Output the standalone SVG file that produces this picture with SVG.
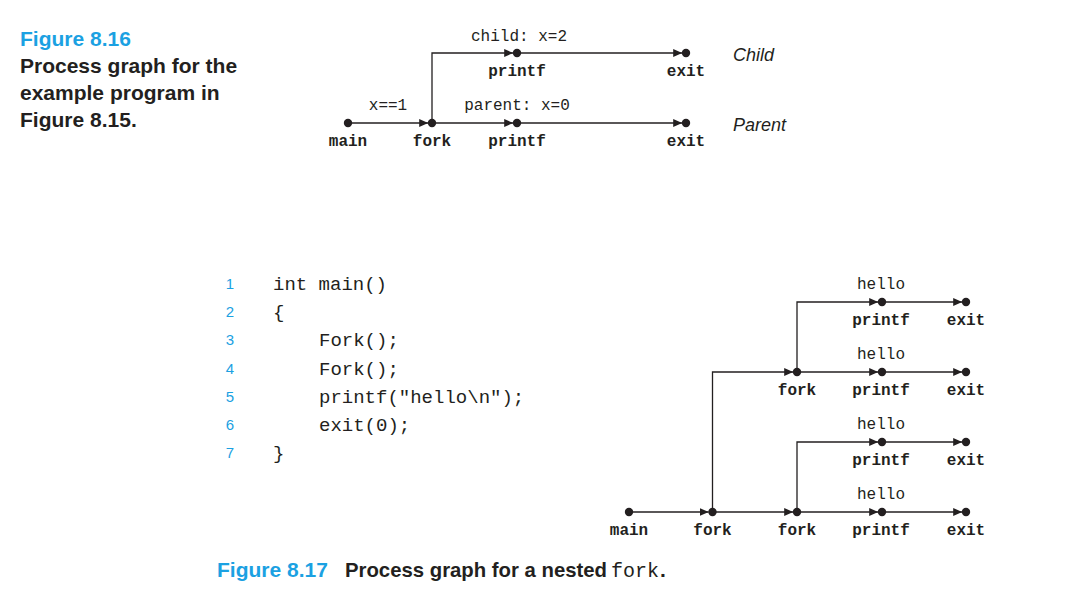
<svg xmlns="http://www.w3.org/2000/svg" width="1075" height="616" viewBox="0 0 1075 616">
<defs>
<marker id="arr" markerUnits="userSpaceOnUse" markerWidth="10" markerHeight="9" refX="9" refY="4" orient="auto">
<path d="M0,0 L9,4 L0,8 Z" fill="#231f20"/>
</marker>
<style>
.cap{font-family:"Liberation Sans",Arial,sans-serif;font-weight:700;font-size:21px;fill:#231f20}
.blue{fill:#1ba1e2}
.mono{font-family:"Liberation Mono","Courier New",monospace;font-size:16px;fill:#231f20;text-anchor:middle}
.bold{font-weight:700}
.code{font-family:"Liberation Mono","Courier New",monospace;font-size:19px;fill:#231f20}
.ln{font-family:"Liberation Sans",Arial,sans-serif;font-size:15px;fill:#1ba1e2;text-anchor:middle}
.it{font-family:"Liberation Sans",Arial,sans-serif;font-style:italic;font-size:18px;fill:#231f20}
.c{stroke:#231f20;stroke-width:1.3;fill:none;marker-end:url(#arr)}
.dot{fill:#231f20}
</style>
</defs>
<rect width="1075" height="616" fill="#fff"/>

<!-- Figure 8.16 caption -->
<g id="caption-816">
<text class="cap blue" x="20" y="46">Figure 8.16</text>
<text class="cap" x="20" y="73">Process graph for the</text>
<text class="cap" x="20" y="100">example program in</text>
<text class="cap" x="20" y="127">Figure 8.15.</text>
</g>

<!-- Top graph connectors -->
<g id="connectors-top">
<line class="c" x1="348" y1="123" x2="428.2" y2="123"/>
<line class="c" x1="432" y1="123" x2="513.2" y2="123"/>
<line class="c" x1="517" y1="123" x2="682.2" y2="123"/>
<path class="c" d="M432,123 V53 H513.2"/>
<line class="c" x1="517" y1="53" x2="682.2" y2="53"/>
<text class="mono" x="388" y="110">x==1</text>
<text class="mono" x="517" y="110">parent: x=0</text>
<text class="mono" x="519" y="41">child: x=2</text>
</g>

<g id="t-main"><circle class="dot" cx="348" cy="123" r="4.2"/><text class="mono bold" x="348" y="146">main</text></g>
<g id="t-fork"><circle class="dot" cx="432" cy="123" r="4.2"/><text class="mono bold" x="432" y="146">fork</text></g>
<g id="t-printf-parent"><circle class="dot" cx="517" cy="123" r="4.2"/><text class="mono bold" x="517" y="146">printf</text></g>
<g id="t-exit-parent"><circle class="dot" cx="686" cy="123" r="4.2"/><text class="mono bold" x="686" y="146">exit</text></g>
<g id="t-printf-child"><circle class="dot" cx="517" cy="53" r="4.2"/><text class="mono bold" x="517" y="76">printf</text></g>
<g id="t-exit-child"><circle class="dot" cx="686" cy="53" r="4.2"/><text class="mono bold" x="686" y="76">exit</text></g>
<g id="t-labels">
<text class="it" x="733" y="61">Child</text>
<text class="it" x="733" y="131">Parent</text>
</g>

<!-- Code listing -->
<g id="code">
<text class="ln" x="230" y="289">1</text>
<text class="ln" x="230" y="317">2</text>
<text class="ln" x="230" y="345">3</text>
<text class="ln" x="230" y="374">4</text>
<text class="ln" x="230" y="402">5</text>
<text class="ln" x="230" y="430">6</text>
<text class="ln" x="230" y="458">7</text>
<text class="code" x="273" y="290">int main()</text>
<text class="code" x="273" y="318">{</text>
<text class="code" x="319" y="346">Fork();</text>
<text class="code" x="319" y="375">Fork();</text>
<text class="code" x="319" y="403">printf("hello\n");</text>
<text class="code" x="319" y="431">exit(0);</text>
<text class="code" x="273" y="459">}</text>
</g>

<!-- Bottom graph connectors -->
<g id="connectors-bottom">
<line class="c" x1="629" y1="512" x2="708.7" y2="512"/>
<line class="c" x1="712.5" y1="512" x2="793.2" y2="512"/>
<path class="c" d="M712.5,512 V372 H793.2"/>
<line class="c" x1="797" y1="372" x2="878.2" y2="372"/>
<path class="c" d="M797,372 V302 H878.2"/>
<line class="c" x1="797" y1="512" x2="878.2" y2="512"/>
<path class="c" d="M797,512 V442 H878.2"/>
<line class="c" x1="882" y1="302" x2="962.2" y2="302"/>
<line class="c" x1="882" y1="372" x2="962.2" y2="372"/>
<line class="c" x1="882" y1="442" x2="962.2" y2="442"/>
<line class="c" x1="882" y1="512" x2="962.2" y2="512"/>
<text class="mono" x="881" y="289">hello</text>
<text class="mono" x="881" y="359">hello</text>
<text class="mono" x="881" y="429">hello</text>
<text class="mono" x="881" y="499">hello</text>
</g>

<g id="b-printf-1"><circle class="dot" cx="882" cy="302" r="4.2"/><text class="mono bold" x="881" y="325">printf</text></g>
<g id="b-exit-1"><circle class="dot" cx="966" cy="302" r="4.2"/><text class="mono bold" x="966" y="325">exit</text></g>
<g id="b-fork-2"><circle class="dot" cx="797" cy="372" r="4.2"/><text class="mono bold" x="797" y="395">fork</text></g>
<g id="b-printf-2"><circle class="dot" cx="882" cy="372" r="4.2"/><text class="mono bold" x="881" y="395">printf</text></g>
<g id="b-exit-2"><circle class="dot" cx="966" cy="372" r="4.2"/><text class="mono bold" x="966" y="395">exit</text></g>
<g id="b-printf-3"><circle class="dot" cx="882" cy="442" r="4.2"/><text class="mono bold" x="881" y="465">printf</text></g>
<g id="b-exit-3"><circle class="dot" cx="966" cy="442" r="4.2"/><text class="mono bold" x="966" y="465">exit</text></g>
<g id="b-main"><circle class="dot" cx="629" cy="512" r="4.2"/><text class="mono bold" x="629" y="535">main</text></g>
<g id="b-fork-1"><circle class="dot" cx="712.5" cy="512" r="4.2"/><text class="mono bold" x="712.5" y="535">fork</text></g>
<g id="b-fork-3"><circle class="dot" cx="797" cy="512" r="4.2"/><text class="mono bold" x="797" y="535">fork</text></g>
<g id="b-printf-4"><circle class="dot" cx="882" cy="512" r="4.2"/><text class="mono bold" x="881" y="535">printf</text></g>
<g id="b-exit-4"><circle class="dot" cx="966" cy="512" r="4.2"/><text class="mono bold" x="966" y="535">exit</text></g>

<!-- Figure 8.17 caption -->
<g id="caption-817">
<text class="cap blue" x="217" y="577">Figure 8.17</text>
<text class="cap" x="345" y="577" textLength="262" lengthAdjust="spacingAndGlyphs">Process graph for a nested</text>
<text x="611" y="577" font-family="'Liberation Mono','Courier New',monospace" font-size="20" fill="#231f20">fork</text>
<text class="cap" x="660" y="577">.</text>
</g>
</svg>
